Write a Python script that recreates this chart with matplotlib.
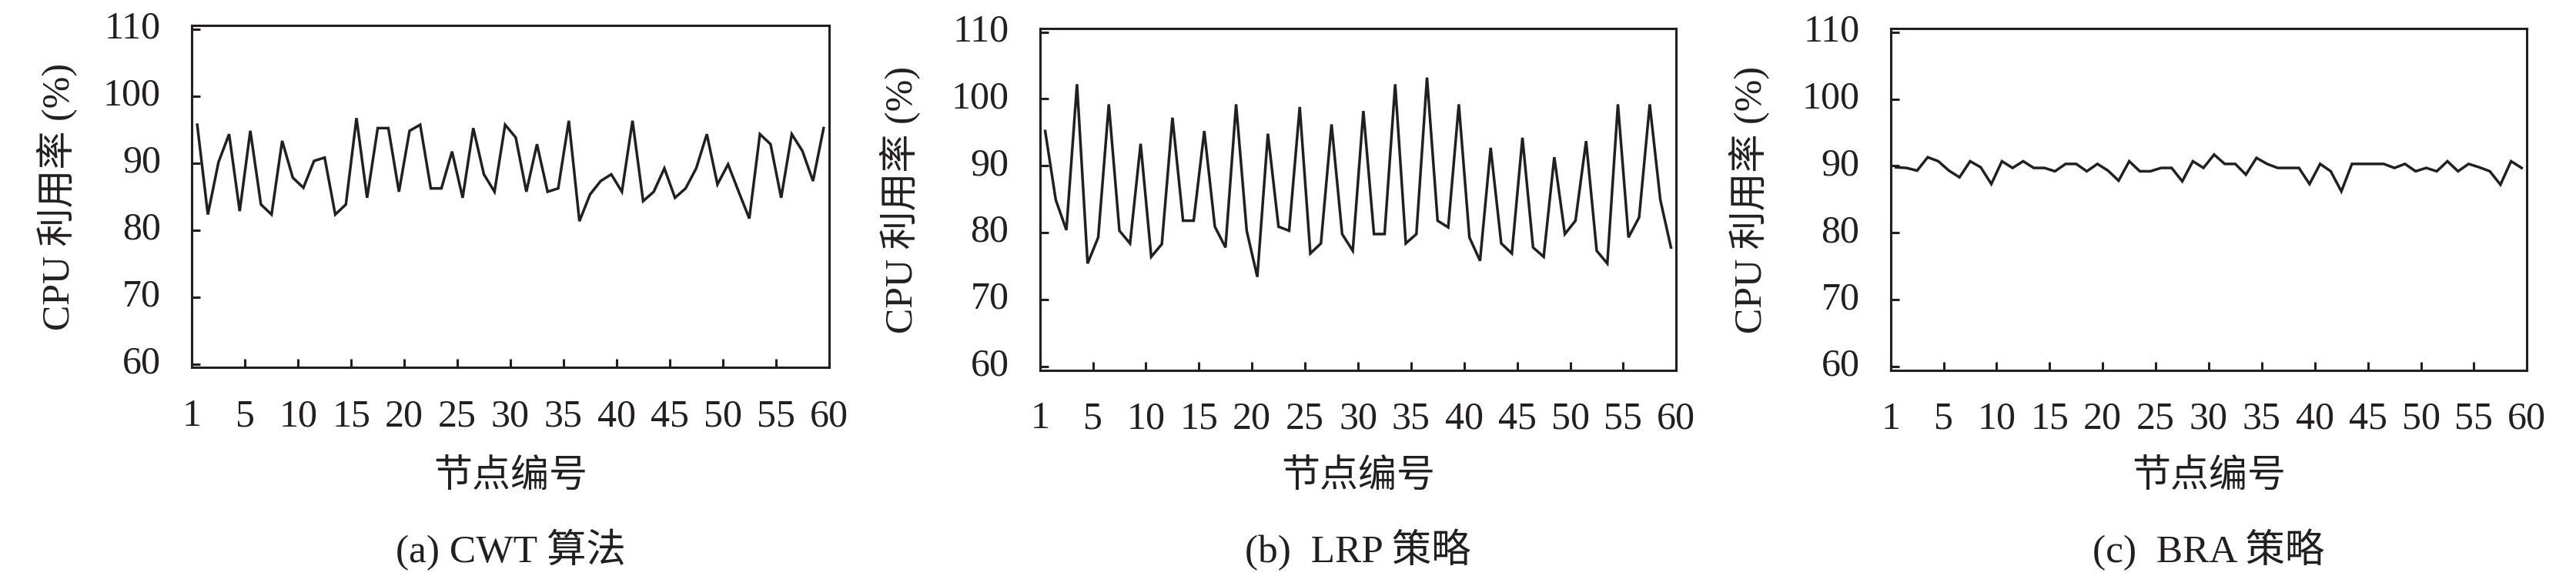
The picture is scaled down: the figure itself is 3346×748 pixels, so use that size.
import numpy as np
import matplotlib
matplotlib.use("Agg")
import matplotlib.pyplot as plt
from matplotlib.transforms import ScaledTranslation

plt.rcParams['font.family'] = ['Liberation Serif', 'Noto Sans CJK SC']
plt.rcParams['axes.unicode_minus'] = False

# ---------------- data ----------------
nodes = np.arange(1, 61)

cwt = [95.7, 82.3, 90.1, 94.3, 82.8, 94.8, 83.8, 82.3, 93.3, 87.8,
       86.3, 90.3, 90.8, 82.3, 83.8, 96.7, 84.8, 95.2, 95.2, 85.7,
       94.8, 95.7, 86.2, 86.2, 91.7, 84.8, 95.2, 88.3, 85.7, 95.7,
       93.8, 85.7, 92.8, 85.7, 86.2, 96.3, 81.3, 85.3, 87.3, 88.3,
       85.7, 96.3, 84.3, 85.7, 89.2, 84.8, 86.2, 89.2, 94.3, 86.8,
       89.8, 85.7, 81.7, 94.3, 92.8, 84.8, 94.3, 91.8, 87.3, 95.2]

lrp = [95.2, 84.9, 80.4, 102.2, 75.4, 79.3, 99.2, 80.3, 78.4, 93.3,
       76.4, 78.3, 97.2, 81.8, 81.8, 95.2, 80.9, 77.8, 99.2, 80.3,
       73.4, 94.8, 80.9, 80.3, 98.8, 76.9, 78.4, 96.2, 79.8, 77.3,
       98.2, 79.8, 79.8, 102.2, 78.4, 79.8, 103.2, 81.8, 80.8, 99.2,
       79.3, 75.8, 92.7, 78.4, 76.9, 94.2, 77.8, 76.4, 91.3, 79.8,
       81.8, 93.7, 77.3, 75.4, 99.2, 79.3, 82.3, 99.2, 84.9, 77.8]

bra = [89.8, 89.7, 89.3, 91.3, 90.7, 89.3, 88.3, 90.7, 89.8, 87.3,
       90.7, 89.7, 90.7, 89.7, 89.7, 89.2, 90.3, 90.3, 89.2, 90.3,
       89.3, 87.8, 90.7, 89.2, 89.2, 89.7, 89.7, 87.7, 90.7, 89.7,
       91.7, 90.3, 90.3, 88.7, 91.2, 90.3, 89.7, 89.7, 89.7, 87.3,
       90.3, 89.2, 86.2, 90.3, 90.3, 90.3, 90.3, 89.7, 90.3, 89.2,
       89.7, 89.2, 90.7, 89.2, 90.3, 89.8, 89.2, 87.2, 90.7, 89.7]

series = [cwt, lrp, bra]
captions = ["(a) CWT 算法", "(b)  LRP 策略", "(c)  BRA 策略"]
xlabel_text = "节点编号"
ylabel_text = "CPU 利用率 (%)"
xtick_pos = list(range(0, 61, 5))
xtick_labels = ["1"] + [str(v) for v in range(5, 61, 5)]
ytick_pos = [60, 70, 80, 90, 100, 110]
ytick_labels = [str(v) for v in ytick_pos]

# ---------------- layout (pixels) ----------------
W, H = 3346, 748
boxes = [(249.3, 33.3, 1076.7, 477.3),
         (1350.7, 37.3, 2177.3, 480.7),
         (2455.7, 37.3, 3282.3, 481.0)]
ylabel_x = [75, 1170, 2273]

fig = plt.figure(figsize=(W / 100, H / 100), dpi=100)
ink = '#231f20'
fs = 36

for k, (l, t, r, b) in enumerate(boxes):
    ax = fig.add_axes([l / W, (H - b) / H, (r - l) / W, (b - t) / H])
    ax.plot(nodes - 0.5, series[k], color=ink, lw=2.5, solid_joinstyle='miter')
    ax.set_xlim(0, 60)
    ax.set_ylim(59.45, 110.5)
    ax.set_xticks(xtick_pos)
    ax.set_xticklabels(xtick_labels)
    ax.set_yticks(ytick_pos)
    ax.set_yticklabels(ytick_labels)
    ax.tick_params(direction='in', length=8, width=2.2, color=ink,
                   labelsize=fs, labelcolor=ink)
    ax.tick_params(axis='x', pad=29)
    ax.tick_params(axis='y', pad=29)
    for sp in ax.spines.values():
        sp.set_linewidth(2.2)
        sp.set_color(ink)
    off = ScaledTranslation(0, 0.06, fig.dpi_scale_trans)
    for lab in ax.get_yticklabels():
        lab.set_transform(lab.get_transform() + off)
    cx = (l + r) / 2 / W
    fig.text(cx, 1 - 620 / H, xlabel_text, ha='center', va='center',
             fontsize=fs, color=ink)
    fig.text(cx, 1 - 714 / H, captions[k], ha='center', va='center',
             fontsize=fs + 1, color=ink)
    fig.text(ylabel_x[k] / W, 1 - ((t + b) / 2) / H, ylabel_text,
             rotation=90, ha='center', va='center', fontsize=fs, color=ink)

fig.savefig("out.png", dpi=100, facecolor='white')
